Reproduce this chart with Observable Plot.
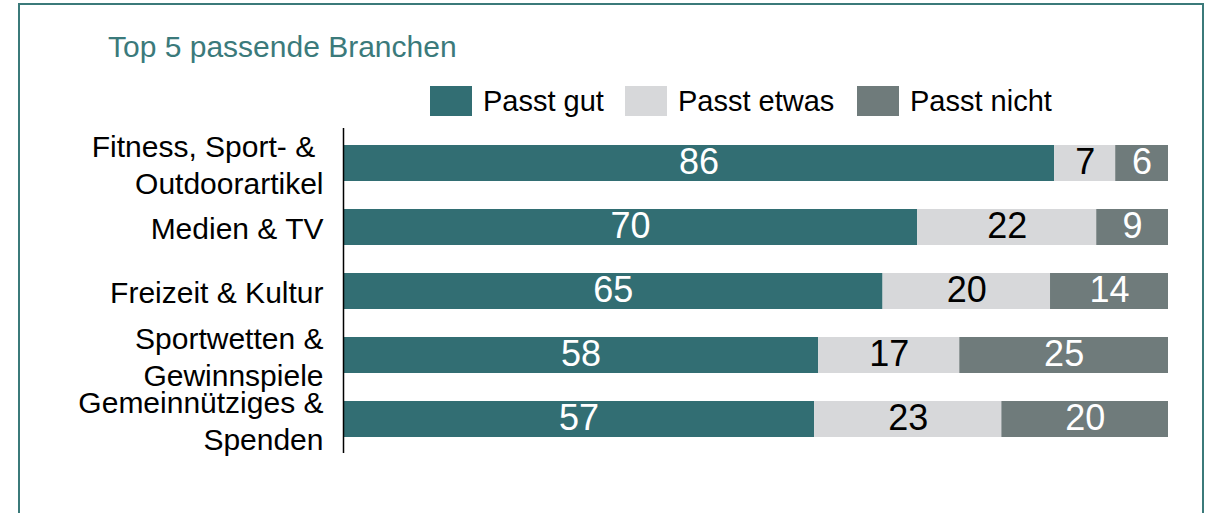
<!DOCTYPE html>
<html>
<head>
<meta charset="utf-8">
<script src="https://cdn.jsdelivr.net/npm/d3@7"></script>
<script src="https://cdn.jsdelivr.net/npm/@observablehq/plot@0.6"></script>
<style>
  html, body { margin: 0; padding: 0; background: #fff; overflow: hidden; }
  body { font-family: "Liberation Sans", Arial, Helvetica, sans-serif; }
  #wrap { position: relative; width: 1214px; height: 513px; overflow: hidden; }
  #frame { position: absolute; left: 18px; top: 3px; width: 1186px; height: 620px; box-sizing: border-box;
           border: 2px solid #3b7a7a; pointer-events: none; }
  #header { position: relative; width: 1214px; height: 128px; }
  #title { position: absolute; left: 108px; top: 32px; font-size: 30px; line-height: 1; color: #3b7a7b; white-space: nowrap; }
  .leg { position: absolute; top: 86px; height: 30px; display: flex; align-items: center; white-space: nowrap; }
  .sw { width: 42px; height: 30px; margin-right: 11px; flex: none; }
  .lt { font-size: 29px; line-height: 1; color: #000; }
  #chart svg { display: block; }
</style>
</head>
<body>
<div id="wrap">
  <div id="header">
    <div id="title"></div>
    <div id="legend"></div>
  </div>
  <div id="chart"></div>
  <div id="frame"></div>
</div>
<script>
const title = "Top 5 passende Branchen";
const categories = [
  "Fitness, Sport- &\u00a0\nOutdoorartikel",
  "Medien & TV",
  "Freizeit & Kultur",
  "Sportwetten &\nGewinnspiele",
  "Gemeinnütziges &\nSpenden"
];
const seriesNames = ["Passt gut", "Passt etwas", "Passt nicht"];
const seriesColors = ["#326e73", "#d7d8da", "#6f7b7b"];
const passtGut   = [86.2, 69.6, 65.4, 57.6, 57.1];
const passtEtwas = [7.4, 21.7, 20.3, 17.1, 22.7];
const passtNicht = [6.4, 8.7, 14.3, 25.3, 20.2];
const legendLeft = [430, 625, 857];

document.getElementById("title").textContent = title;
const legend = document.getElementById("legend");
seriesNames.forEach((s, i) => {
  const item = document.createElement("div");
  item.className = "leg";
  item.style.left = legendLeft[i] + "px";
  const sw = document.createElement("div");
  sw.className = "sw";
  sw.style.background = seriesColors[i];
  const t = document.createElement("span");
  t.className = "lt";
  t.textContent = s;
  item.appendChild(sw);
  item.appendChild(t);
  legend.appendChild(item);
});

const seriesValues = [passtGut, passtEtwas, passtNicht];
const data = [];
categories.forEach((c, ci) => {
  seriesNames.forEach((s, si) => {
    data.push({cat: c, series: s, value: seriesValues[si][ci]});
  });
});

const fontFamily = '"Liberation Sans", Arial, Helvetica, sans-serif';

const plot = Plot.plot({
  width: 1214,
  height: 385,
  marginLeft: 343,
  marginRight: 46,
  marginTop: 0,
  marginBottom: 60,
  style: {fontFamily, background: "transparent", color: "#000", overflow: "visible"},
  x: {domain: [0, 100], axis: null},
  y: {domain: categories, paddingInner: 0.44, paddingOuter: 0.23, label: null},
  color: {domain: seriesNames, range: seriesColors},
  marks: [
    Plot.barX(data, {x: "value", y: "cat", fill: "series"}),
    Plot.text(data, Plot.stackX({
      x: "value", y: "cat", z: "series",
      text: d => d.series === "Passt etwas" ? "" : String(Math.round(d.value)),
      fill: "white", fontSize: 36, dy: -1
    })),
    Plot.text(data, Plot.stackX({
      x: "value", y: "cat", z: "series",
      text: d => d.series === "Passt etwas" ? String(Math.round(d.value)) : "",
      fill: "black", fontSize: 36, dy: -1
    })),
    Plot.axisY({tickSize: 0, tickPadding: 20, fontSize: 30, lineHeight: 1.22, fill: "#000", label: null}),
    Plot.ruleX([0], {stroke: "#000", strokeWidth: 1.5})
  ]
});
document.getElementById("chart").appendChild(plot);
</script>
</body>
</html>
